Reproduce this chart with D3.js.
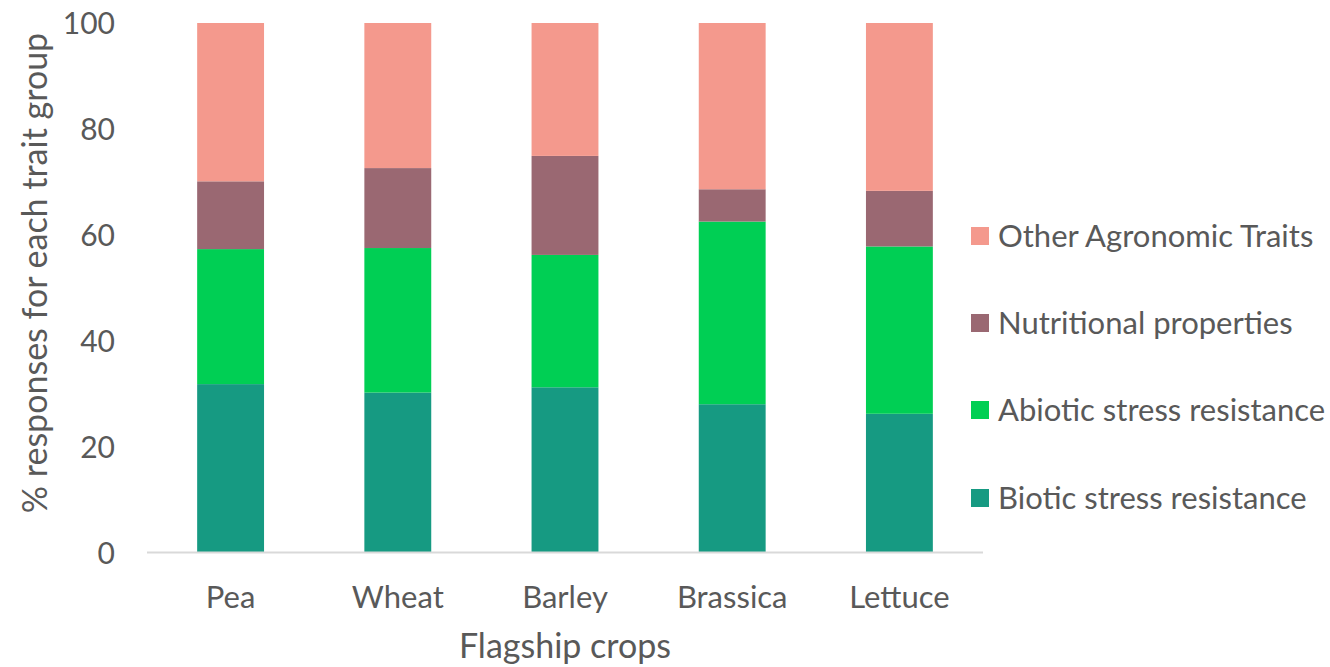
<!DOCTYPE html>
<html>
<head>
<meta charset="utf-8">
<script src="https://cdn.jsdelivr.net/npm/d3@7"></script>
<style>
body { margin: 0; background: #fff; }
text { font-family: Lato, "Open Sans", sans-serif; fill: #595959; }
</style>
</head>
<body>
<div class="chart"></div>
<script>
var width = 1330,
	height = 667;

// data (% of responses)
var crops = ["Pea", "Wheat", "Barley", "Brassica", "Lettuce"];
var groups = ["Biotic stress resistance", "Abiotic stress resistance", "Nutritional properties", "Other Agronomic Traits"];
var biotic = [31.8, 30.2, 31.2, 28.0, 26.2];
var abiotic = [25.5, 27.3, 25.0, 34.5, 31.6];
var nutritional = [12.8, 15.1, 18.7, 6.1, 10.5];
var other = [29.9, 27.4, 25.1, 31.4, 31.7];
var yTicks = [0, 20, 40, 60, 80, 100];
var colours = ["#169A82", "#00CF54", "#9A6872", "#F4998D"];

var rows = crops.map(function(c, i){
	return {crop: c, "Biotic stress resistance": biotic[i], "Abiotic stress resistance": abiotic[i],
		"Nutritional properties": nutritional[i], "Other Agronomic Traits": other[i]};
});

var svg = d3.select(".chart").append("svg").attr("width", width).attr("height", height);

var x = d3.scaleBand().domain(crops).range([147, 983]).paddingInner(0.6).paddingOuter(0.3);
var y = d3.scaleLinear().domain([0, 100]).range([552.5, 23]);
var colour = d3.scaleOrdinal().domain(groups).range(colours);

var stacked = d3.stack().keys(groups)(rows);

svg.selectAll("g.layer").data(stacked).enter().append("g")
	.attr("class", "layer")
	.attr("fill", function(d){ return colour(d.key); })
	.selectAll("rect").data(function(d){ return d; }).enter().append("rect")
	.attr("x", function(d){ return x(d.data.crop); })
	.attr("width", x.bandwidth())
	.attr("y", function(d){ return y(d[1]); })
	.attr("height", function(d){ return y(d[0]) - y(d[1]); });

// y axis labels, no line
var yAxis = svg.append("g").attr("transform", "translate(115,0)")
	.call(d3.axisLeft(y).tickValues(yTicks).tickSize(0).tickPadding(0));
yAxis.select(".domain").remove();
yAxis.selectAll("text").style("font-size", "30px").attr("dy", "0.35em");

// x axis
var xAxis = svg.append("g").attr("transform", "translate(0,552.5)")
	.call(d3.axisBottom(x).tickSize(0).tickPadding(0));
xAxis.select(".domain").attr("stroke", "#D9D9D9").attr("stroke-width", 2).attr("d", "M147,0H983");
xAxis.selectAll("text").style("font-size", "31px").attr("y", 44.5).attr("dy", "0.35em");

svg.append("text").attr("x", 565).attr("y", 646).attr("dy", "0.35em").attr("text-anchor", "middle")
	.style("font-size", "34px").text("Flagship crops");

svg.append("text").attr("transform", "translate(35,273) rotate(-90)").attr("dy", "0.35em").attr("text-anchor", "middle")
	.style("font-size", "34px").text("% responses for each trait group");

// legend, top entry is last series
var legendY = [498, 410, 323, 236];
var legend = svg.selectAll("g.legend").data(groups).enter().append("g")
	.attr("class", "legend")
	.attr("transform", function(d, i){ return "translate(971," + legendY[i] + ")"; });
legend.append("rect").attr("x", 0).attr("y", -9).attr("width", 18).attr("height", 18)
	.attr("fill", function(d){ return colour(d); });
legend.append("text").attr("x", 27).attr("dy", "0.35em").style("font-size", "31px")
	.text(function(d){ return d; });
</script>
</body>
</html>
